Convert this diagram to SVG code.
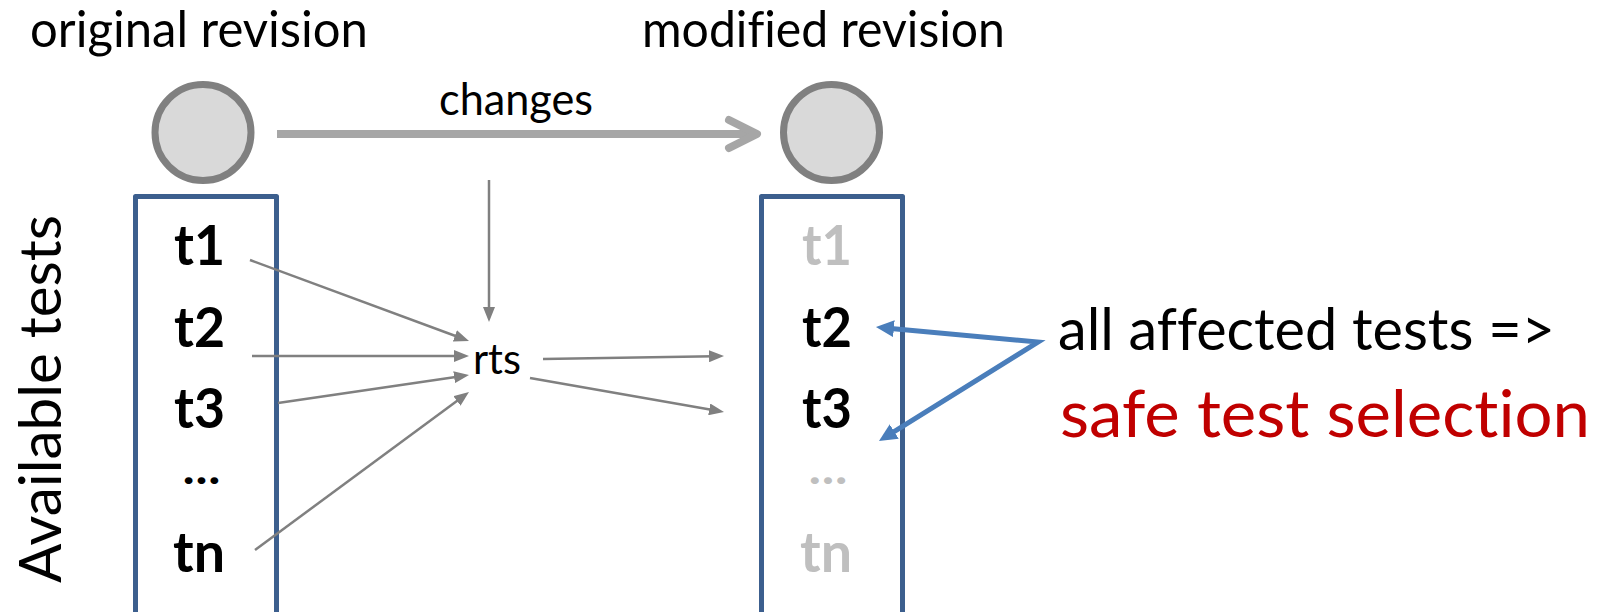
<svg xmlns="http://www.w3.org/2000/svg" width="1604" height="612" viewBox="0 0 1604 612">
<style>
text{font-family:Lato,"Open Sans","Liberation Sans",sans-serif;font-variant-ligatures:none;font-feature-settings:"liga" 0,"clig" 0;}
.lbl{font-size:50px;fill:#000;}
.tst{font-size:56px;font-weight:bold;fill:#000;}
.dots{font-size:42px;font-weight:900;}
.dim{fill:#bfbfbf;}
.rev{fill:#d9d9d9;stroke:#808080;stroke-width:7;}
.box{fill:none;stroke:#3c5f8e;stroke-width:5;stroke-linejoin:round;}
.thin{stroke:#808080;stroke-width:2.5;fill:none;marker-end:url(#ga);}
</style>
<defs>
<marker id="ga" markerUnits="userSpaceOnUse" viewBox="0 0 15 12" markerWidth="15" markerHeight="12" refX="5" refY="6" orient="auto"><path d="M0,0 L15,6 L0,12 z" fill="#808080"/></marker>
<marker id="ba" markerUnits="userSpaceOnUse" viewBox="0 0 18 17" markerWidth="18" markerHeight="17" refX="3" refY="8.5" orient="auto-start-reverse"><path d="M0,0 L18,8.5 L0,17 z" fill="#4a7ebb"/></marker>
</defs>

<text class="lbl" x="30" y="47" textLength="338" lengthAdjust="spacingAndGlyphs">original revision</text>
<text class="lbl" x="642" y="47" textLength="363" lengthAdjust="spacingAndGlyphs">modified revision</text>
<text x="0" y="0" font-size="58" transform="translate(61,583) rotate(-90)" textLength="368" lengthAdjust="spacingAndGlyphs">Available tests</text>

<g id="original">
<circle class="rev" cx="203" cy="132.5" r="48"/>
</g>
<g id="modified">
<circle class="rev" cx="831.5" cy="132.5" r="48"/>
</g>

<g id="original-tests">
<rect class="box" x="135.5" y="196.5" width="141" height="430"/>
<text class="tst" x="174" y="265" textLength="51" lengthAdjust="spacingAndGlyphs">t1</text>
<text class="tst" x="174" y="347" textLength="51" lengthAdjust="spacingAndGlyphs">t2</text>
<text class="tst" x="174" y="428" textLength="51" lengthAdjust="spacingAndGlyphs">t3</text>
<text class="tst dots" x="183" y="484" textLength="37" lengthAdjust="spacingAndGlyphs">…</text>
<text class="tst" x="173" y="572" textLength="52" lengthAdjust="spacingAndGlyphs">tn</text>
</g>

<g id="modified-tests">
<rect class="box" x="761.5" y="196.5" width="141" height="430"/>
<text class="tst dim" x="802" y="265" textLength="50" lengthAdjust="spacingAndGlyphs">t1</text>
<text class="tst" x="802" y="347" textLength="50" lengthAdjust="spacingAndGlyphs">t2</text>
<text class="tst" x="802" y="428" textLength="50" lengthAdjust="spacingAndGlyphs">t3</text>
<text class="tst dots dim" x="809" y="484" textLength="38" lengthAdjust="spacingAndGlyphs">…</text>
<text class="tst dim" x="800" y="572" textLength="52" lengthAdjust="spacingAndGlyphs">tn</text>
</g>

<g id="rts">
<text x="473" y="374" font-size="42" textLength="48" lengthAdjust="spacingAndGlyphs">rts</text>
</g>

<g id="note">
<text x="1058" y="350" font-size="58" textLength="497" lengthAdjust="spacingAndGlyphs">all affected tests =&gt;</text>
<text x="1060" y="437" font-size="66" fill="#c00000" textLength="530" lengthAdjust="spacingAndGlyphs">safe test selection</text>
</g>

<g id="connectors">
<line x1="277" y1="134" x2="755" y2="134" stroke="#a6a6a6" stroke-width="8"/>
<polyline points="729,120 757,134 729,148" fill="none" stroke="#a6a6a6" stroke-width="8" stroke-linecap="round" stroke-linejoin="round"/>
<text x="439" y="115" font-size="44" textLength="154" lengthAdjust="spacingAndGlyphs">changes</text>
<line class="thin" x1="489" y1="180" x2="489" y2="312"/>
<line class="thin" x1="250" y1="260" x2="459.6" y2="337.5"/>
<line class="thin" x1="252" y1="356" x2="459" y2="356"/>
<line class="thin" x1="278" y1="403" x2="459.1" y2="376.45"/>
<line class="thin" x1="255" y1="550" x2="460.95" y2="397.94"/>
<line class="thin" x1="543" y1="359" x2="714" y2="356.17"/>
<line class="thin" x1="530" y1="378" x2="714.15" y2="410.27"/>
<path d="M890.9,328.4 L1038,342 L891.7,433.1" fill="none" stroke="#4a7ebb" stroke-width="5" stroke-linejoin="miter" marker-start="url(#ba)" marker-end="url(#ba)"/>
</g>
</svg>
